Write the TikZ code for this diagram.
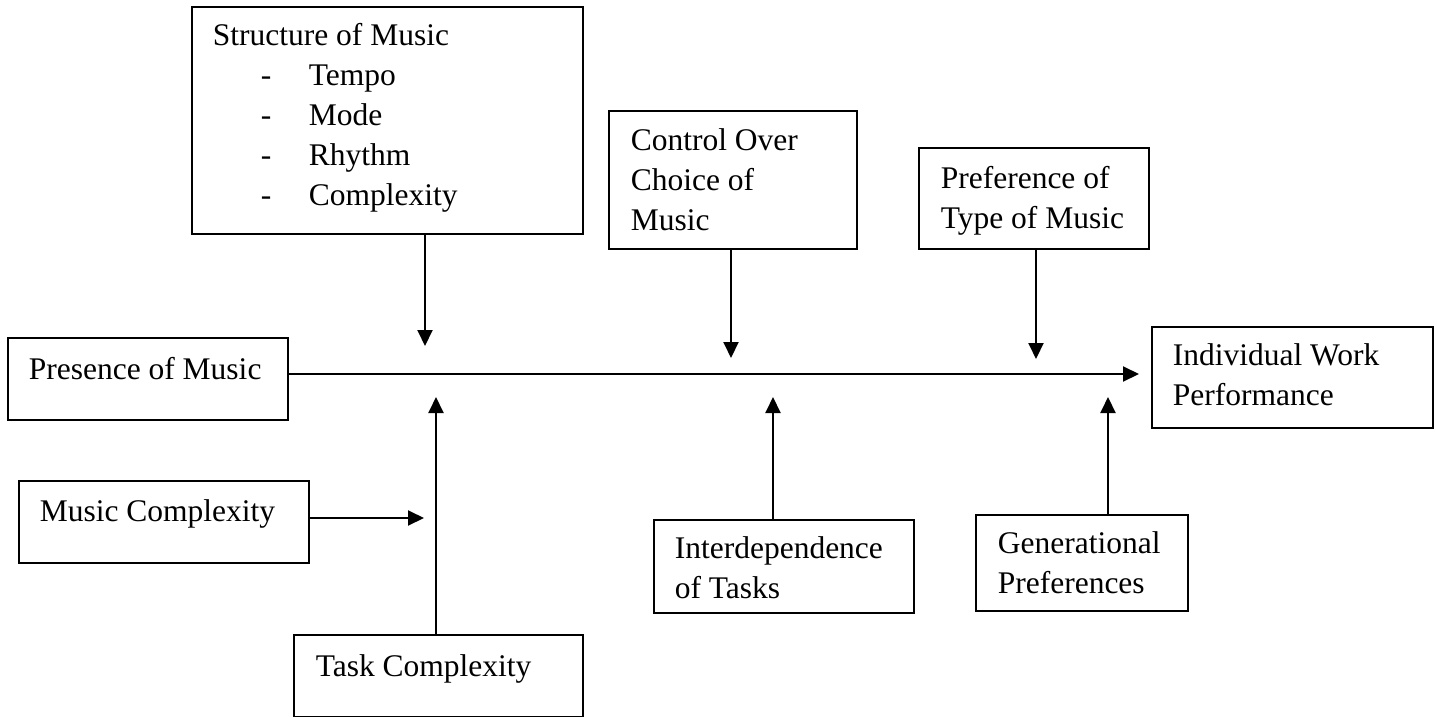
\documentclass[tikz,border=0pt]{standalone}
\usepackage{fontspec}
\setmainfont{Liberation Serif}
\usetikzlibrary{arrows.meta}
\tikzset{
  box/.style={draw, line width=1.6pt, anchor=north west, inner xsep=21pt,
    inner ysep=0pt, align=flush left, font=\fontsize{31.5}{40}\selectfont},
  arr/.style={line width=2pt, -{Triangle[length=16pt,width=15pt]}},
}
\newcommand{\subpt}[1]{\makebox[96pt][l]{\hspace*{48pt}-}#1}
\begin{document}
\begin{tikzpicture}[x=1pt,y=-1pt]
                \useasboundingbox (0,0) rectangle (1437,717);
                %% Boxes
                \node[box, text width=349pt, text height=39pt, text depth=188pt] (struc) at (191,6)
                  {Structure of Music\\ \subpt{Tempo}\\ \subpt{Mode}\\ \subpt{Rhythm}\\ \subpt{Complexity}};
                \node[box, text width=238pt, text height=42pt, text depth=40pt] (pres) at (7,337) {Presence of Music};
                \node[box, text width=248pt, text height=41pt, text depth=41pt] (mcomp) at (18,480) {Music Complexity};
                \node[box, inner xsep=22pt, text width=245pt, text height=42pt, text depth=40pt] (tcomp) at (293,634) {Task Complexity};
                \node[box, inner xsep=22pt, text width=204pt, text height=40pt, text depth=98pt] (ctrl) at (608,110) {Control Over\\ Choice of\\ Music};
                \node[box, inner xsep=22pt, text width=186pt, text height=41pt, text depth=60pt] (pref) at (918,147) {Preference of\\ Type of Music};
                \node[box, text width=239pt, text height=39pt, text depth=62pt] (indiv) at (1151,326) {Individual Work\\ Performance};
                \node[box, text width=218pt, text height=39pt, text depth=54pt] (inter) at (653,519) {Interdependence\\ of Tasks};
                \node[box, inner xsep=22pt, text width=168pt, text height=39pt, text depth=57pt] (gen) at (975,514) {Generational\\ Preferences};
                %% Arrow ends
                \coordinate (mt) at (1139,374);
                \coordinate (sd) at (425,346);
                \coordinate (cd) at (731,358);
                \coordinate (pd) at (1036,359);
                \coordinate (tu) at (436,397);
                \coordinate (iu) at (773,397);
                \coordinate (gu) at (1108,397);
                \coordinate (mr) at (424,518);
                %% Arrows
                \draw[arr] (pres.east |- mt) -- (mt);
                \draw[arr] (sd |- struc.south) -- (sd);
                \draw[arr] (cd |- ctrl.south) -- (cd);
                \draw[arr] (pd |- pref.south) -- (pd);
                \draw[arr] (tu |- tcomp.north) -- (tu);
                \draw[arr] (iu |- inter.north) -- (iu);
                \draw[arr] (gu |- gen.north) -- (gu);
                \draw[arr] (mcomp.east |- mr) -- (mr);
            \end{tikzpicture}
\end{document}
